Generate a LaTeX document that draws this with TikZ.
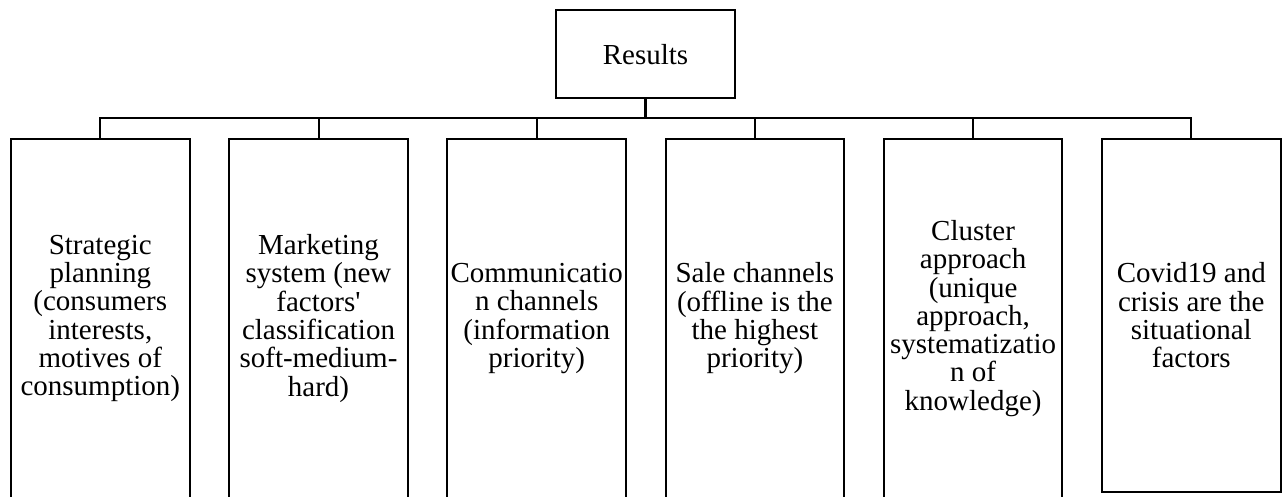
\documentclass[tikz,border=0pt]{standalone}
\usepackage{fontspec}
\setmainfont{Liberation Serif}
\begin{document}
\begin{tikzpicture}[x=1pt,y=-1pt,
  box/.style={draw, line width=2pt, inner sep=0pt, align=center,
    minimum width=178.5pt, font=\fontsize{29}{28.3}\selectfont},
  tall/.style={box, minimum height=359.3pt},
  link/.style={line width=2pt}]
\useasboundingbox (0,0) rectangle (1288,497);
\clip (0,0) rectangle (1288,497);
\fill[white] (0,0) rectangle (1288,497);

% top box
\node[box, minimum width=179pt, minimum height=88pt] (res) at (645.5,54.3) {Results};

% result categories
\node[tall] (b1) at (100.3,318.4) {Strategic\\planning\\(consumers\\interests,\\motives of\\consumption)};
\node[tall] (b2) at (318.5,318.4) {Marketing\\system (new\\factors\textquotesingle\\classification\\soft-medium-\\hard)};
\node[tall] (b3) at (536.7,318.4) {Communicatio\\n channels\\(information\\priority)};
\node[tall] (b4) at (754.9,318.4) {Sale channels\\(offline is the\\the highest\\priority)};
\node[tall] (b5) at (973.1,318.4) {Cluster\\approach\\(unique\\approach,\\systematizatio\\n of\\knowledge)};
\node[box, minimum height=353.3pt] (b6) at (1191.3,315.35) {Covid19 and\\crisis are the\\situational\\factors};

% connectors
\coordinate (bus) at (645.5,118.3);
\draw[line width=3pt] (res.south) -- (bus);
\draw[link] (b1.north) -- (b1.north |- bus) -- (b6.north |- bus) -- (b6.north);
\foreach \b in {b2,b3,b4,b5}
  \draw[link] (\b.north |- bus) -- (\b.north);
\end{tikzpicture}
\end{document}
